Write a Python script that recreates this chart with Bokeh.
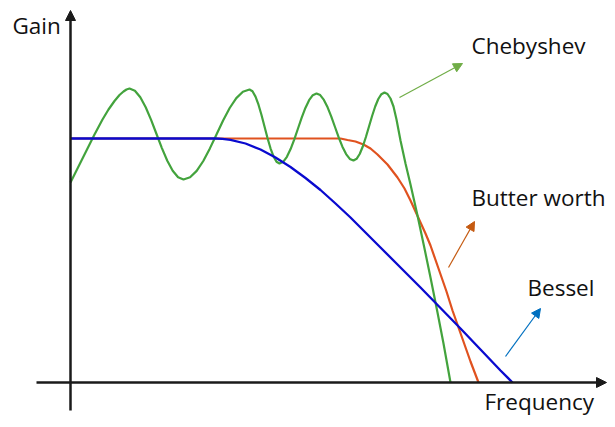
from bokeh.plotting import figure
from bokeh.models import Range1d, Arrow, NormalHead
from bokeh.embed import file_html
from bokeh.resources import INLINE
from bokeh.core.properties import value

# ---- data (arbitrary schematic units: frequency, gain) ----
cheb_f = [0, 8, 16, 24, 32, 38, 44, 49, 53, 56, 59,
          64.4, 69.8, 75.2, 80.6, 86, 91.4, 96.8, 102.2, 107.6, 113,
          119.6, 126.2, 132.8, 139.4, 146, 152.6, 159.2, 165.8, 172.4, 179,
          182, 185, 188, 191, 194, 197, 200, 203, 206, 209,
          212.7, 216.4, 220.1, 223.8, 227.5, 231.2, 234.9, 238.6, 242.3, 246,
          249.7, 253.4, 257.1, 260.8, 264.5, 268.2, 271.9, 275.6, 279.3, 283,
          286.1, 289.2, 292.3, 295.4, 298.5, 301.6, 304.7, 307.8, 310.9, 314,
          317, 320, 323, 326, 330, 335, 340, 347, 354, 360, 367, 373, 380]
cheb_g = [200, 216, 232, 248, 263, 273, 281.5, 287.5, 291, 293, 294,
          291.8, 285.3, 275.3, 262.6, 248.5, 234.4, 221.7, 211.7, 205.2, 203,
          205.2, 211.6, 221.5, 234.1, 248, 262, 274.5, 284.4, 290.8, 293,
          291.2, 285.9, 277.8, 267.5, 256, 244.5, 234.2, 226.1, 220.8, 219,
          220.7, 225.7, 233.4, 243.2, 254, 264.9, 274.6, 282.3, 287.3, 289,
          287.4, 282.6, 275.2, 265.9, 255.5, 245.1, 235.8, 228.4, 223.6, 222,
          223.7, 228.5, 236, 245.5, 256, 266.5, 276, 283.5, 288.3, 290,
          288.5, 284, 276, 263, 242, 219, 198, 167, 134, 105, 70, 39, 0]

butter_f = [0, 270, 277, 285, 293, 300, 307, 317, 327, 334, 340, 345, 350,
            355, 360, 368, 376, 382, 388, 394, 400, 408]
butter_g = [244, 244, 242.5, 241, 238, 234, 228, 218, 205, 194, 182, 171, 160,
            149, 137, 114, 91, 72, 55, 38, 21, 0]

bessel_f = [0, 145, 152, 160, 175, 190, 205, 220, 235, 250, 265, 280, 295,
            310, 330, 350, 370, 390, 410, 430, 442]
bessel_g = [244, 244, 243.6, 242.7, 239, 233, 225, 215.5, 204.5, 192.5, 179,
            165, 150, 135, 115, 95, 74.5, 54, 33, 12, 0]

axis_x = [-34, 536]     # frequency axis extent
axis_y = [-28, 372]     # gain axis extent

labels = ["Gain", "Chebyshev", "Butter worth", "Bessel", "Frequency"]
label_f = [-58, 401, 401, 457, 414]
label_g = [357, 337, 185, 95, -19]

pointer_start_f = [329, 378, 435]
pointer_start_g = [285, 115, 26]
pointer_end_f = [392, 404, 470]
pointer_end_g = [319, 161, 74]
pointer_colors = ["#70AD47", "#C55A11", "#0070C0"]

# ---- figure ----
p = figure(width=615, height=427, output_backend="svg", toolbar_location=None,
           x_range=Range1d(-70, 545), y_range=Range1d(-45, 382),
           min_border=0)
p.axis.visible = False
p.grid.visible = False
p.outline_line_color = None
p.background_fill_color = "white"
p.border_fill_color = "white"

# axes with arrows
p.add_layout(Arrow(x_start=axis_x[0], y_start=0, x_end=axis_x[1], y_end=0,
                   line_color="#1a1a1a", line_width=2.5,
                   end=NormalHead(size=10, fill_color="#1a1a1a", line_color="#1a1a1a")))
p.add_layout(Arrow(x_start=0, y_start=axis_y[0], x_end=0, y_end=axis_y[1],
                   line_color="#1a1a1a", line_width=2.5,
                   end=NormalHead(size=10, fill_color="#1a1a1a", line_color="#1a1a1a")))

# curves
p.line(butter_f, butter_g, line_color="#E0521F", line_width=2.2)
p.line(cheb_f, cheb_g, line_color="#43A33D", line_width=2.2)
p.line(bessel_f, bessel_g, line_color="#0A0ACF", line_width=2.3)

# pointer arrows
for xs, ys, xe, ye, c in zip(pointer_start_f, pointer_start_g, pointer_end_f,
                             pointer_end_g, pointer_colors):
    p.add_layout(Arrow(x_start=xs, y_start=ys, x_end=xe, y_end=ye,
                       line_color=c, line_width=1.2,
                       end=NormalHead(size=9, fill_color=c, line_color=c)))

# labels
p.text(x=label_f, y=label_g, text=labels, text_font=value("Open Sans"),
       text_font_size="22.5px", text_color="#111111",
       text_align="left", text_baseline="alphabetic")

open("out.html", "w").write(file_html(p, INLINE))
